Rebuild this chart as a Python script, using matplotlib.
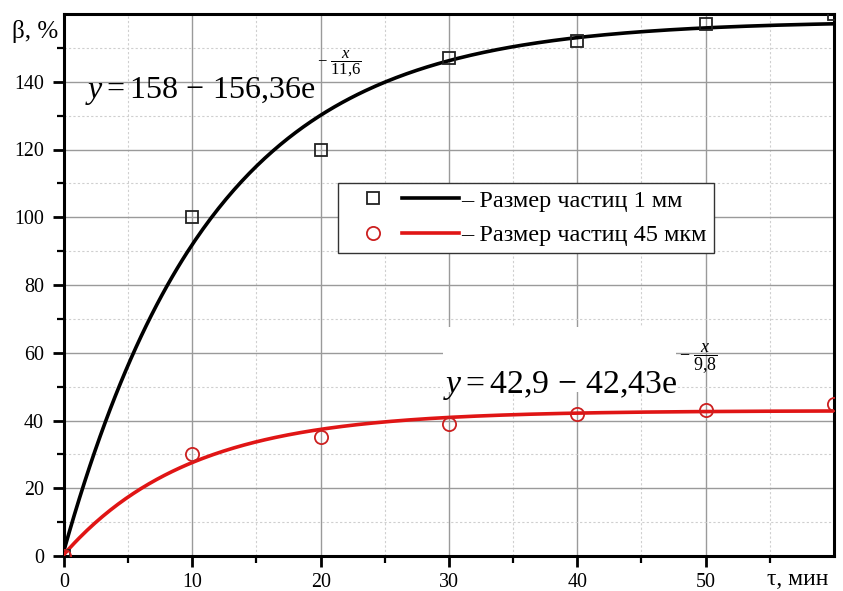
import numpy as np
import matplotlib
matplotlib.use('Agg')
import matplotlib.pyplot as plt
from matplotlib.lines import Line2D
from matplotlib.legend_handler import HandlerTuple
from matplotlib.patches import Rectangle

plt.rcParams.update({
    'font.family': 'Liberation Serif',
    'mathtext.fontset': 'custom',
    'mathtext.rm': 'Liberation Serif',
    'mathtext.it': 'Liberation Serif:italic',
    'mathtext.bf': 'Liberation Serif:bold',
})

# Данные (оценка по рисунку)
tau = [0, 10, 20, 30, 40, 50, 60]
beta_1mm = [0, 100, 120, 147, 152, 157, 160]
beta_45um = [0, 30, 35, 39, 42, 43, 45]

# параметры аппроксимации y = a - b*exp(-x/c)
fit_1mm = [158, 156.36, 11.6]
fit_45um = [42.9, 42.43, 9.8]

x_ticks = [0, 10, 20, 30, 40, 50]
y_ticks = [0, 20, 40, 60, 80, 100, 120, 140]

RED = '#e01515'

fig = plt.figure(figsize=(8.43, 5.91), dpi=100)
ax = fig.add_axes([64/843, 35/591, 770/843, 542/591])

xx = np.linspace(0, 60, 300)
y1 = fit_1mm[0] - fit_1mm[1]*np.exp(-xx/fit_1mm[2])
y2 = fit_45um[0] - fit_45um[1]*np.exp(-xx/fit_45um[2])

ax.plot(xx, y1, color='black', lw=2.6, zorder=3)
ax.plot(xx, y2, color=RED, lw=2.6, zorder=3)
ax.plot(tau, beta_1mm, ls='none', marker='s', ms=8, mfc='none',
        mec='#222222', mew=1.3, zorder=4)
ax.plot(tau, beta_45um, ls='none', marker='o', ms=9.5, mfc='none',
        mec='#cc2020', mew=1.3, zorder=4)

ax.set_xlim(0, 60)
ax.set_ylim(0, 160)
ax.set_xticks(x_ticks)
ax.set_xticks(np.arange(5, 60, 10), minor=True)
ax.set_yticks(y_ticks)
ax.set_yticks(np.arange(10, 160, 20), minor=True)
ax.tick_params(which='major', direction='out', length=8, width=2,
               labelsize=14.4)
ax.tick_params(which='minor', direction='out', length=5, width=1.6)
ax.tick_params(axis='x', pad=4.5)
ax.tick_params(axis='y', pad=6.5)

ax.set_axisbelow(True)
ax.grid(which='major', color='#9a9a9a', lw=1.0, ls='-')
ax.grid(which='minor', color='#cfcfcf', lw=0.8, ls=(0, (2, 2)))
for s in ax.spines.values():
    s.set_linewidth(2.2)
    s.set_color('black')

# уравнения
ax.text(1.64, 135.3, r'$y = 158\,-\,156{,}36\mathrm{e}$', fontsize=23,
        va='baseline', ha='left', zorder=5)
ax.text(19.7, 145.6, r'$-\ \dfrac{x}{11{,}6}$', fontsize=12,
        va='center', ha='left', zorder=5)

ax.add_patch(Rectangle((29.5, 48.5), 18.2, 19.1, facecolor='white',
                       edgecolor='none', zorder=1))
ax.text(29.55, 48.1, r'$y = 42{,}9\,-\,42{,}43\mathrm{e}$', fontsize=24.3,
        va='baseline', ha='left', zorder=5)
ax.text(47.9, 58.3, r'$-\ \dfrac{x}{9{,}8}$', fontsize=13,
        va='center', ha='left', zorder=5)

# легенда
sq = Line2D([], [], ls='none', marker='s', ms=8, mfc='none', mec='#222222', mew=1.3)
ln1 = Line2D([], [], color='black', lw=2.6)
ci = Line2D([], [], ls='none', marker='o', ms=9.5, mfc='none', mec='#cc2020', mew=1.3)
ln2 = Line2D([], [], color=RED, lw=2.6)
leg = ax.legend([(sq, ln1), (ci, ln2)],
                ['– Размер частиц 1 мм', '– Размер частиц 45 мкм'],
                handler_map={tuple: HandlerTuple(ndivide=None, pad=0)},
                loc='upper left', bbox_to_anchor=(0.356, 0.688),
                borderaxespad=0, fontsize=17.5, handlelength=4.7,
                handletextpad=0.1, labelspacing=0.5, borderpad=0.28,
                fancybox=False, framealpha=1, edgecolor='#333333')
leg.get_frame().set_linewidth(1.0)
leg.set_zorder(6)

fig.text(12/843, (591-38)/591, 'β, %', fontsize=18, va='baseline', ha='left')
fig.text(767/843, 6/591, 'τ, мин', fontsize=17, va='baseline', ha='left')

fig.savefig('out.png', dpi=100)
